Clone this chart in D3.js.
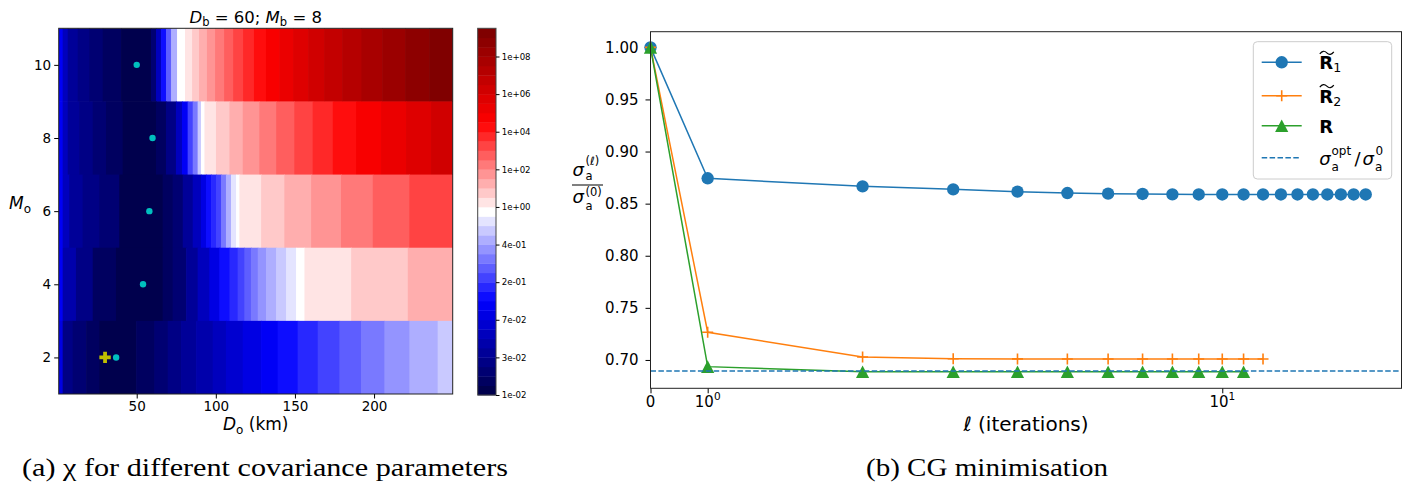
<!DOCTYPE html>
<html>
<head>
<meta charset="utf-8">
<script src="https://cdn.jsdelivr.net/npm/d3@7/dist/d3.min.js"></script>
<style>
html,body{margin:0;padding:0;background:#fff;}
svg{display:block;}
</style>
</head>
<body>
<svg id="fig" width="1406" height="485" xmlns="http://www.w3.org/2000/svg"></svg>
<script>
// ================= DATA : panel (a) =================
// each row: [D_o where the colour band starts (km), colour band index of chi (0..38)]
const chiM10 = [[0.7,9],[3.2,6],[6.4,4],[12.7,3],[20.1,2],[28.5,1],[40.1,0],[59.0,2],[62.2,6],[65.4,10],[68.5,13],[71.7,16],[75.5,19],[80.5,20],[85.0,21],[89.4,22],[94.4,23],[99.5,24],[105.2,25],[110.9,26],[117.2,27],[124.1,28],[131.7,29],[140.0,30],[148.8,31],[158.3,32],[168.4,33],[179.8,34],[192.0,35],[205.1,36],[219.6,37],[234.8,38]];
const chiM8 = [[0.7,9],[3.2,6],[6.4,4],[13.7,3],[22.2,2],[30.6,1],[41.1,0],[62.2,1],[68.5,3],[74.8,6],[78.6,9],[82.2,12],[85.4,14],[88.5,17],[90.6,19],[92.8,20],[100.1,21],[108.6,22],[117.0,23],[127.5,24],[138.1,25],[149.6,26],[161.2,27],[173.9,28],[188.6,29],[204.4,30],[220.2,31],[236.0,32]];
const chiM6 = [[0.7,9],[3.2,6],[7.4,4],[15.8,3],[26.4,2],[39.0,0],[66.4,1],[72.7,2],[79.1,4],[85.4,6],[90.6,8],[93.8,10],[97.0,11],[100.1,12],[103.3,14],[106.4,16],[109.6,18],[112.8,19],[114.9,20],[128.6,21],[143.3,22],[160.2,23],[179.1,24],[199.2,25],[222.3,26]];
const chiM4 = [[0.7,9],[3.2,5],[11.6,3],[22.2,1],[36.9,0],[66.4,1],[72.7,2],[81.2,4],[88.5,6],[95.9,8],[102.2,10],[108.6,11],[113.8,12],[118.0,13],[122.3,14],[126.5,15],[131.7,16],[138.1,17],[144.4,18],[150.7,19],[156.0,20],[185.5,21],[221.3,22]];
const chiM2 = [[0.7,8],[3.2,3],[9.5,2],[18.0,1],[26.4,0],[49.6,1],[61.1,2],[69.6,3],[78.0,4],[87.5,5],[98.0,6],[106.4,7],[117.0,8],[128.6,9],[139.1,10],[151.7,11],[164.4,12],[178.1,13],[191.8,14],[206.5,15],[222.3,16],[240.2,17]];
const rowMo = [10, 8, 6, 4, 2];
const bestDo = [50, 60, 58, 54, 37];
const bestMo = [10, 8, 6, 4, 2];
const trueDo = [30];
const trueMo = [2];
const xTicksA = [50, 100, 150, 200];
const yTicksA = [2, 4, 6, 8, 10];
const nBands = 39;
const cbarTickBands = [0, 4, 8, 12, 16, 20, 24, 28, 32, 36];
const cbarTickLabels = ["1e-02","3e-02","7e-02","2e-01","4e-01","1e+00","1e+02","1e+04","1e+06","1e+08"];

// ================= DATA : panel (b) =================
const iterR1 = [0,1,2,3,4,5,6,7,8,9,10,11,12,13,14,15,16,17,18,19];
const sigR1  = [1.0,0.8743,0.8666,0.8637,0.8615,0.8602,0.8596,0.8593,0.8589,0.8588,0.8588,0.8588,0.8588,0.8588,0.8588,0.8588,0.8588,0.8588,0.8588,0.8588];
const iterR2 = [0,1,2,3,4,5,6,7,8,9,10,11,12];
const sigR2  = [1.0,0.7266,0.7029,0.7012,0.7010,0.7009,0.7009,0.7009,0.7009,0.7009,0.7009,0.7009,0.7009];
const iterR  = [0,1,2,3,4,5,6,7,8,9,10,11];
const sigR   = [1.0,0.6936,0.6887,0.6887,0.6887,0.6887,0.6887,0.6887,0.6887,0.6887,0.6887,0.6887];
const sigOptRatio = 0.6893;
const xTicksB = [0, 1, 10];
const yTicksB = [0.70, 0.75, 0.80, 0.85, 0.90, 0.95, 1.00];

// ================= DRAW =================
const FONT = "DejaVu Sans, sans-serif";
const svg = d3.select("#fig");
const defs = svg.append("defs");

// ---------- Panel (a): heat map ----------
const A = {l:58.7, r:452.7, t:28.3, b:394};
const xA = d3.scaleLinear().domain([0.7, 249.7]).range([A.l, A.r]);
const yA = d3.scaleLinear().domain([1, 11]).range([A.b, A.t]);
const seismic = d3.scaleLinear().domain([0,0.25,0.5,0.75,1])
  .range(["#00004d","#0000ff","#ffffff","#ff0000","#800000"]);
const bandColor = b => seismic(b/(nBands-1));

defs.append("clipPath").attr("id","clipA").append("rect")
  .attr("x",A.l).attr("y",A.t).attr("width",A.r-A.l).attr("height",A.b-A.t);

const rows = [chiM10, chiM8, chiM6, chiM4, chiM2];
const gHeat = svg.append("g").attr("clip-path","url(#clipA)");
rows.forEach((segs, ri) => {
  const M = rowMo[ri];
  segs.forEach((s, i) => {
    const d0 = s[0];
    const d1 = i+1 < segs.length ? segs[i+1][0] : xA.domain()[1];
    gHeat.append("rect")
      .attr("x", xA(d0)).attr("width", xA(d1)-xA(d0)+0.7)
      .attr("y", yA(M+1)).attr("height", yA(M-1)-yA(M+1)+0.5)
      .attr("fill", bandColor(s[1]));
  });
});

// best points and reference point
svg.append("g").selectAll("circle").data(bestDo).join("circle")
  .attr("cx",(d)=>xA(d)).attr("cy",(d,i)=>yA(bestMo[i])).attr("r",3.2)
  .attr("fill","#00bfbf");
svg.append("g").selectAll("path").data(trueDo).join("path")
  .attr("d", d3.symbol(d3.symbolCross, 72))
  .attr("transform",(d,i)=>`translate(${xA(d)},${yA(trueMo[i])})`)
  .attr("fill","#bfbf00");

// frame
svg.append("rect").attr("x",A.l).attr("y",A.t).attr("width",A.r-A.l).attr("height",A.b-A.t)
  .attr("fill","none").attr("stroke","#222").attr("stroke-width",1);

// axes
const gAx = svg.append("g").attr("transform",`translate(0,${A.b})`)
  .call(d3.axisBottom(xA).tickValues(xTicksA).tickSize(4.5).tickPadding(3).tickSizeOuter(0))
  .attr("font-family",FONT).attr("font-size",13.5);
gAx.select(".domain").remove();
gAx.selectAll("text").attr("fill","#000");
const gAy = svg.append("g").attr("transform",`translate(${A.l},0)`)
  .call(d3.axisLeft(yA).tickValues(yTicksA).tickSize(4.5).tickPadding(3).tickSizeOuter(0))
  .attr("font-family",FONT).attr("font-size",13.5);
gAy.select(".domain").remove();
gAy.selectAll("text").attr("fill","#000");

// title
const tA = svg.append("text").attr("x",(A.l+A.r)/2).attr("y",23).attr("text-anchor","middle")
  .attr("font-family",FONT).attr("font-size",16.5);
tA.append("tspan").attr("font-style","italic").text("D");
tA.append("tspan").attr("font-size",11.5).attr("dy",3).text("b");
tA.append("tspan").attr("dy",-3).text(" = 60; ");
tA.append("tspan").attr("font-style","italic").text("M");
tA.append("tspan").attr("font-size",11.5).attr("dy",3).text("b");
tA.append("tspan").attr("dy",-3).text(" = 8");

// x label
const xlA = svg.append("text").attr("x",(A.l+A.r)/2).attr("y",430).attr("text-anchor","middle")
  .attr("font-family",FONT).attr("font-size",17);
xlA.append("tspan").attr("font-style","italic").text("D");
xlA.append("tspan").attr("font-size",12).attr("dy",3.5).text("o");
xlA.append("tspan").attr("dy",-3.5).text(" (km)");
// y label
const ylA = svg.append("text").attr("x",9).attr("y",209)
  .attr("font-family",FONT).attr("font-size",17);
ylA.append("tspan").attr("font-style","italic").text("M");
ylA.append("tspan").attr("font-size",12).attr("dy",3.5).text("o");

// ---------- colour bar ----------
const CB = {l:477.7, r:496, t:28.3, b:395};
const yCB = d3.scaleLinear().domain([0, nBands]).range([CB.b, CB.t]);
const bandIdx = Array.from({length:nBands}, (_, i) => i);
svg.append("g").selectAll("rect").data(bandIdx).join("rect")
  .attr("x",CB.l).attr("width",CB.r-CB.l)
  .attr("y",d=>yCB(d+1)).attr("height",d=>yCB(d)-yCB(d+1)+0.4)
  .attr("fill",d=>bandColor(d));
svg.append("rect").attr("x",CB.l).attr("y",CB.t).attr("width",CB.r-CB.l).attr("height",CB.b-CB.t)
  .attr("fill","none").attr("stroke","#444").attr("stroke-width",1);
const gCB = svg.append("g").attr("transform",`translate(${CB.r},0)`)
  .call(d3.axisRight(yCB).tickValues(cbarTickBands).tickFormat((d,i)=>cbarTickLabels[i])
    .tickSize(3.5).tickPadding(2.2).tickSizeOuter(0))
  .attr("font-family",FONT).attr("font-size",8.6);
gCB.select(".domain").remove();
gCB.selectAll("text").attr("fill","#000");

// ---------- Panel (b): CG minimisation ----------
const B = {l:650.5, r:1401.5, t:31.7, b:388.3};
const linK = 0.1/(1-0.1);                       // symlog, linthresh 1
const symT = v => v <= 1 ? v*linK : linK + Math.log10(v);
const xTB = d3.scaleLinear().domain([0, 1.4594]).range([B.l, B.r]);
const xB = v => xTB(symT(v));
const yB = d3.scaleLinear().domain([0.6728, 1.0150]).range([B.b, B.t]);

const C1 = "#1f77b4", C2 = "#ff7f0e", C3 = "#2ca02c";

// axes
const gBx = svg.append("g").attr("transform",`translate(0,${B.b})`)
  .call(d3.axisBottom(xTB).tickValues(xTicksB.map(symT)).tickFormat("").tickSize(5).tickSizeOuter(0));
gBx.select(".domain").remove();
xTicksB.forEach(v => {
  const t = svg.append("text").attr("x",xB(v)).attr("y",406.5).attr("text-anchor","middle")
    .attr("font-family",FONT).attr("font-size",15).attr("fill","#000");
  if (v === 0) { t.text("0"); }
  else {
    t.append("tspan").text("10");
    t.append("tspan").attr("font-size",10.5).attr("dy",-6.5).text(String(Math.round(Math.log10(v))));
  }
});
const gBy = svg.append("g").attr("transform",`translate(${B.l},0)`)
  .call(d3.axisLeft(yB).tickValues(yTicksB).tickFormat(d3.format(".2f")).tickSize(5).tickPadding(7).tickSizeOuter(0))
  .attr("font-family",FONT).attr("font-size",15);
gBy.select(".domain").remove();
gBy.selectAll("text").attr("fill","#000");

// lines
const line = (xs) => d3.line().x((d,i)=>xB(xs[i])).y(d=>yB(d));
const gL = svg.append("g");
// R1
gL.append("path").attr("d",line(iterR1)(sigR1)).attr("fill","none").attr("stroke",C1).attr("stroke-width",1.5);
gL.append("g").selectAll("circle").data(sigR1).join("circle")
  .attr("cx",(d,i)=>xB(iterR1[i])).attr("cy",d=>yB(d)).attr("r",6.2).attr("fill",C1);
// R2
gL.append("path").attr("d",line(iterR2)(sigR2)).attr("fill","none").attr("stroke",C2).attr("stroke-width",1.5);
gL.append("g").selectAll("path").data(sigR2).join("path")
  .attr("d","M-5.5,0H5.5M0,-5.5V5.5")
  .attr("transform",(d,i)=>`translate(${xB(iterR2[i])},${yB(d)})`)
  .attr("stroke",C2).attr("stroke-width",1.6).attr("fill","none");
// R
gL.append("path").attr("d",line(iterR)(sigR)).attr("fill","none").attr("stroke",C3).attr("stroke-width",1.5);
gL.append("g").selectAll("path").data(sigR).join("path")
  .attr("d","M0,-6.3L6.6,6.3L-6.6,6.3Z")
  .attr("transform",(d,i)=>`translate(${xB(iterR[i])},${yB(d)})`)
  .attr("fill",C3);
// optimal ratio
svg.append("line").attr("x1",B.l).attr("x2",B.r).attr("y1",yB(sigOptRatio)).attr("y2",yB(sigOptRatio))
  .attr("stroke",C1).attr("stroke-width",1.5).attr("stroke-dasharray","5.5,2.4");

// frame
svg.append("rect").attr("x",B.l).attr("y",B.t).attr("width",B.r-B.l).attr("height",B.b-B.t)
  .attr("fill","none").attr("stroke","#222").attr("stroke-width",1);

// x label
const xlB = svg.append("text").attr("x",(B.l+B.r)/2).attr("y",431).attr("text-anchor","middle")
  .attr("font-family",FONT).attr("font-size",20);
xlB.append("tspan").attr("font-style","italic").text("ℓ");
xlB.append("tspan").text(" (iterations)");

// y label (fraction)
const fr = svg.append("g").attr("font-family",FONT).attr("fill","#000");
fr.append("text").attr("x",572.5).attr("y",176).attr("font-size",18).attr("font-style","italic").text("σ");
fr.append("text").attr("x",585.5).attr("y",179.5).attr("font-size",11.5).text("a");
const sl = fr.append("text").attr("x",585.5).attr("y",165).attr("font-size",11.5);
sl.append("tspan").text("(");
sl.append("tspan").attr("font-style","italic").text("ℓ");
sl.append("tspan").text(")");
fr.append("line").attr("x1",572).attr("x2",603).attr("y1",185).attr("y2",185).attr("stroke","#000").attr("stroke-width",1);
fr.append("text").attr("x",572.5).attr("y",203).attr("font-size",18).attr("font-style","italic").text("σ");
fr.append("text").attr("x",585.5).attr("y",209.5).attr("font-size",11.5).text("a");
fr.append("text").attr("x",585.5).attr("y",195.5).attr("font-size",11.5).text("(0)");

// legend
const LG = {l:1253.3, r:1391.7, t:41.7, b:179};
svg.append("rect").attr("x",LG.l).attr("y",LG.t).attr("width",LG.r-LG.l).attr("height",LG.b-LG.t)
  .attr("rx",4).attr("fill","#fff").attr("fill-opacity",0.8).attr("stroke","#cccccc").attr("stroke-width",1);
const hx0 = 1261.7, hx1 = 1301.7, hxm = (hx0+hx1)/2;
const lgY = [62.3, 95.7, 125.7, 157.7];
const lg = svg.append("g");
lg.append("line").attr("x1",hx0).attr("x2",hx1).attr("y1",lgY[0]).attr("y2",lgY[0]).attr("stroke",C1).attr("stroke-width",1.5);
lg.append("circle").attr("cx",hxm).attr("cy",lgY[0]).attr("r",6.2).attr("fill",C1);
lg.append("line").attr("x1",hx0).attr("x2",hx1).attr("y1",lgY[1]).attr("y2",lgY[1]).attr("stroke",C2).attr("stroke-width",1.5);
lg.append("path").attr("d",`M${hxm-5.5},${lgY[1]}H${hxm+5.5}M${hxm},${lgY[1]-5.5}V${lgY[1]+5.5}`).attr("stroke",C2).attr("stroke-width",1.6);
lg.append("line").attr("x1",hx0).attr("x2",hx1).attr("y1",lgY[2]).attr("y2",lgY[2]).attr("stroke",C3).attr("stroke-width",1.5);
lg.append("path").attr("d",`M${hxm},${lgY[2]-6.3}L${hxm+6.6},${lgY[2]+6.3}L${hxm-6.6},${lgY[2]+6.3}Z`).attr("fill",C3);
lg.append("line").attr("x1",hx0).attr("x2",hx1-2).attr("y1",lgY[3]).attr("y2",lgY[3]).attr("stroke",C1).attr("stroke-width",1.5).attr("stroke-dasharray","5.5,2.4");

const tx = 1319.3;
const tilde = (x, y, w) => `M${x},${y+2} Q${x+w/4},${y-2.5} ${x+w/2},${y+1} T${x+w},${y}`;
[["1",69.3],["2",102.7]].forEach(([sub,by]) => {
  const t = lg.append("text").attr("x",tx).attr("y",by).attr("font-family",FONT).attr("font-size",18);
  t.append("tspan").attr("font-weight","bold").text("R");
  t.append("tspan").attr("font-size",12.6).attr("dy",3).text(sub);
  lg.append("path").attr("d",tilde(tx+0.5, by-17.5, 14)).attr("fill","none").attr("stroke","#000").attr("stroke-width",1.2);
});
lg.append("text").attr("x",tx).attr("y",132.7).attr("font-family",FONT).attr("font-size",18).attr("font-weight","bold").text("R");
const sg = lg.append("g").attr("font-family",FONT).attr("fill","#000");
sg.append("text").attr("x",tx).attr("y",165).attr("font-size",18).attr("font-style","italic").text("σ");
sg.append("text").attr("x",1331.5).attr("y",171).attr("font-size",12).text("a");
sg.append("text").attr("x",1331.5).attr("y",155).attr("font-size",12).text("opt");
sg.append("text").attr("x",1354.5).attr("y",165).attr("font-size",18).text("/");
sg.append("text").attr("x",1362.5).attr("y",165).attr("font-size",18).attr("font-style","italic").text("σ");
sg.append("text").attr("x",1375).attr("y",171).attr("font-size",12).text("a");
sg.append("text").attr("x",1375.5).attr("y",155).attr("font-size",12).text("0");

// ---------- captions ----------
const SERIF = "'Liberation Serif', 'Times New Roman', serif";
svg.append("text").attr("x",22).attr("y",476).attr("font-family",SERIF).attr("font-size",25)
  .attr("textLength",486).attr("lengthAdjust","spacingAndGlyphs")
  .text("(a) χ for different covariance parameters");
svg.append("text").attr("x",866).attr("y",476).attr("font-family",SERIF).attr("font-size",25)
  .attr("textLength",242).attr("lengthAdjust","spacingAndGlyphs")
  .text("(b) CG minimisation");
</script>
</body>
</html>
